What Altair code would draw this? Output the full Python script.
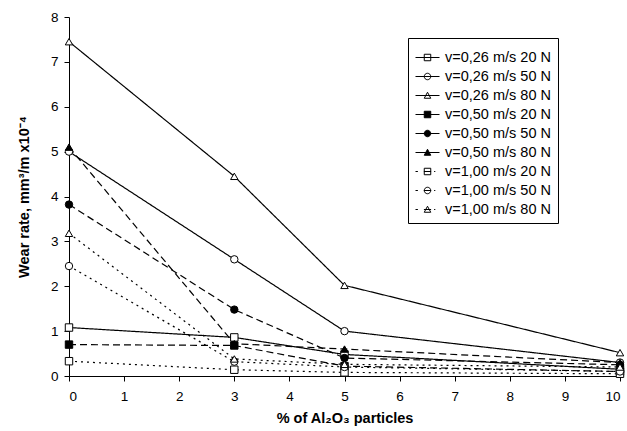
import altair as alt
import pandas as pd

x_vals = [0, 3, 5, 10]
series = [
    "v=0,26 m/s 20 N", "v=0,26 m/s 50 N", "v=0,26 m/s 80 N",
    "v=0,50 m/s 20 N", "v=0,50 m/s 50 N", "v=0,50 m/s 80 N",
    "v=1,00 m/s 20 N", "v=1,00 m/s 50 N", "v=1,00 m/s 80 N",
]
s026_20 = [1.08, 0.86, 0.48, 0.15]
s026_50 = [5.00, 2.60, 1.00, 0.30]
s026_80 = [7.45, 4.45, 2.02, 0.52]
s050_20 = [0.70, 0.68, 0.22, 0.10]
s050_50 = [3.82, 1.48, 0.40, 0.25]
s050_80 = [5.10, 0.72, 0.60, 0.30]
s100_20 = [0.33, 0.14, 0.08, 0.05]
s100_50 = [2.45, 0.32, 0.20, 0.10]
s100_80 = [3.18, 0.38, 0.26, 0.20]
values = [s026_20, s026_50, s026_80, s050_20, s050_50, s050_80, s100_20, s100_50, s100_80]

rows = []
for name, ys in zip(series, values):
    for xv, yv in zip(x_vals, ys):
        rows.append({"x": xv, "y": yv, "series": name, "legend": name})
df = pd.DataFrame(rows)

sq = "M-1,-1H1V1H-1Z"
ci = "circle"
tr = "triangle-up"
marker_range = [sq, ci, tr, sq, ci, tr, sq, ci, tr]
fill_range = ["white", "white", "white", "black", "black", "black", "white", "white", "white"]
dash_range = [[1, 0], [1, 0], [1, 0], [7, 4], [7, 4], [7, 4], [2, 4], [2, 4], [2, 4]]
black_range = ["black"] * 9

# legend symbols: line + marker
m = 0.27
lsq = f"M-{m},-{m}H{m}V{m}H-{m}Z"
lci = f"M-{m},0A{m},{m} 0 1,0 {m},0A{m},{m} 0 1,0 -{m},0Z"
ltr = f"M0,-{m}L{m},{m*0.85}L-{m},{m*0.85}Z"
solid = "M-1,0H1"
dotted = "M-1,0H-0.8M-0.3,0H0.3M0.55,0H0.65"
legend_range = [solid + lsq, solid + lci, solid + ltr,
                solid + lsq, solid + lci, solid + ltr,
                dotted + lsq, dotted + lci, dotted + ltr]

xs = alt.X("x:Q", scale=alt.Scale(domain=[0, 10], nice=False),
           axis=alt.Axis(values=list(range(11)), title="% of Al₂O₃ particles",
                         grid=False, titlePadding=9, labelPadding=8))
ys = alt.Y("y:Q", scale=alt.Scale(domain=[0, 8], nice=False),
           axis=alt.Axis(values=list(range(9)), title="Wear rate, mm³/m x10⁻⁴",
                         grid=False, titlePadding=19, labelPadding=6))

lines = alt.Chart(df).mark_line(color="black", strokeWidth=1.2).encode(
    x=xs, y=ys,
    detail="series:N",
    strokeDash=alt.StrokeDash("series:N", scale=alt.Scale(domain=series, range=dash_range), legend=None),
)

points = alt.Chart(df).mark_point(filled=True, stroke="black", strokeWidth=1, size=55, opacity=1).encode(
    x=xs, y=ys,
    shape=alt.Shape("series:N", scale=alt.Scale(domain=series, range=marker_range), legend=None),
    fill=alt.Fill("series:N", scale=alt.Scale(domain=series, range=fill_range), legend=None),
)

legend_layer = alt.Chart(df).mark_point(filled=True, strokeWidth=1, size=576, opacity=0).encode(
    x=xs, y=ys,
    shape=alt.Shape("legend:N", scale=alt.Scale(domain=series, range=legend_range),
                    legend=alt.Legend(title=None, orient="none", legendX=339, legendY=21,
                                      symbolSize=576, symbolOpacity=1, symbolStrokeWidth=1,
                                      labelFontSize=14.5,
                                      labelFont="Liberation Sans", labelColor="black",
                                      strokeColor="black", fillColor="white",
                                      padding=7, rowPadding=-8.5, labelOffset=5, labelLimit=300)),
    fill=alt.Fill("legend:N", scale=alt.Scale(domain=series, range=fill_range), legend=None),
    stroke=alt.Stroke("legend:N", scale=alt.Scale(domain=series, range=black_range), legend=None),
)

chart = alt.layer(lines, points, legend_layer).resolve_scale(
    shape="independent", fill="independent", strokeDash="independent", stroke="independent"
).properties(
    width=551, height=359,
    autosize=alt.AutoSizeParams(type="none"),
    padding={"left": 69, "top": 17, "right": 7, "bottom": 55},
).configure_view(stroke=None).configure_axis(
    labelFont="Liberation Sans", labelFontSize=13.5, labelColor="black",
    titleFont="Liberation Sans", titleFontSize=14.5, titleFontWeight="bold", titleColor="black",
    domainColor="black", tickColor="black", tickSize=5,
)

chart.save("out.html", embed_options={"renderer": "svg", "actions": False})
